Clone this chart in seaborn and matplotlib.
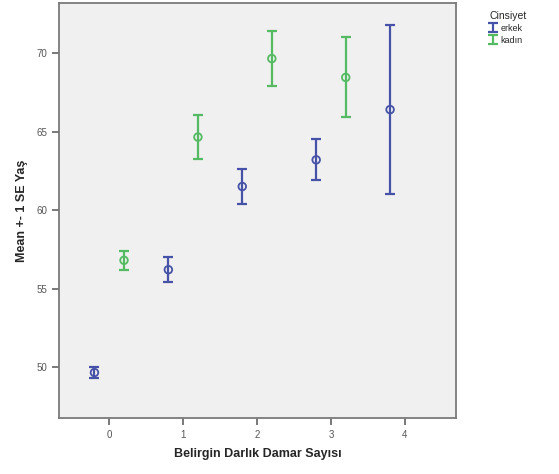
import pandas as pd
import seaborn as sns
import matplotlib.pyplot as plt
from matplotlib.collections import PathCollection

# group means and standard errors
erkek_x = [-0.2, 0.8, 1.8, 2.8, 3.8]
erkek_mean = [49.65, 56.2, 61.5, 63.2, 66.4]
erkek_se = [0.35, 0.8, 1.1, 1.3, 5.4]

kadin_x = [0.2, 1.2, 2.2, 3.2]
kadin_mean = [56.8, 64.65, 69.65, 68.45]
kadin_se = [0.6, 1.4, 1.75, 2.55]

renkler = {'erkek': '#4552a8', 'kadın': '#55bb63'}

df = pd.concat([
    pd.DataFrame({'x': erkek_x, 'mean': erkek_mean, 'se': erkek_se, 'Cinsiyet': 'erkek'}),
    pd.DataFrame({'x': kadin_x, 'mean': kadin_mean, 'se': kadin_se, 'Cinsiyet': 'kadın'}),
])

sns.set_style('ticks')
plt.rcParams['font.family'] = ['Liberation Sans', 'DejaVu Sans']

fig = plt.figure(figsize=(5.59, 4.74), dpi=100)
ax = fig.add_axes([0.1055, 0.118, 0.71, 0.876])
ax.set_facecolor('#f0f0f0')

for grup, d in df.groupby('Cinsiyet'):
    ax.errorbar(d['x'], d['mean'], yerr=d['se'], fmt='none', ecolor=renkler[grup],
                elinewidth=1.6, capsize=3.5, capthick=1.6, label=grup)

sns.scatterplot(data=df, x='x', y='mean', hue='Cinsiyet', palette=renkler,
                s=30, linewidth=1.3, legend=False, ax=ax, zorder=3)
# hollow circles like SPSS
for coll in ax.collections:
    if isinstance(coll, PathCollection):
        fc = coll.get_facecolors()
        coll.set_edgecolors(fc)
        coll.set_facecolors('none')

ax.set_xlim(-0.68, 4.69)
ax.set_ylim(46.75, 73.2)
ax.set_xticks([0, 1, 2, 3, 4])
ax.set_yticks([50, 55, 60, 65, 70])
ax.tick_params(labelsize=7, labelcolor='#555555', color='#555555', length=5, width=1.1)
for s in ax.spines.values():
    s.set_color('#7a7a7a')
    s.set_linewidth(1.3)

ax.set_xlabel('Belirgin Darlık Damar Sayısı', fontsize=9, fontweight='bold', labelpad=6)
ax.set_ylabel('Mean +- 1 SE Yaş', fontsize=9, fontweight='bold', labelpad=6)

h, l = ax.get_legend_handles_labels()
leg = fig.legend(h, l, title='Cinsiyet', loc='upper left', bbox_to_anchor=(0.87, 0.985),
                 frameon=False, fontsize=6.5, title_fontsize=7.5, handlelength=0.6,
                 handleheight=1.0, handletextpad=0.6, labelspacing=0.35, borderaxespad=0)
leg._legend_box.align = 'left'

fig.savefig('out.png', dpi=100)
